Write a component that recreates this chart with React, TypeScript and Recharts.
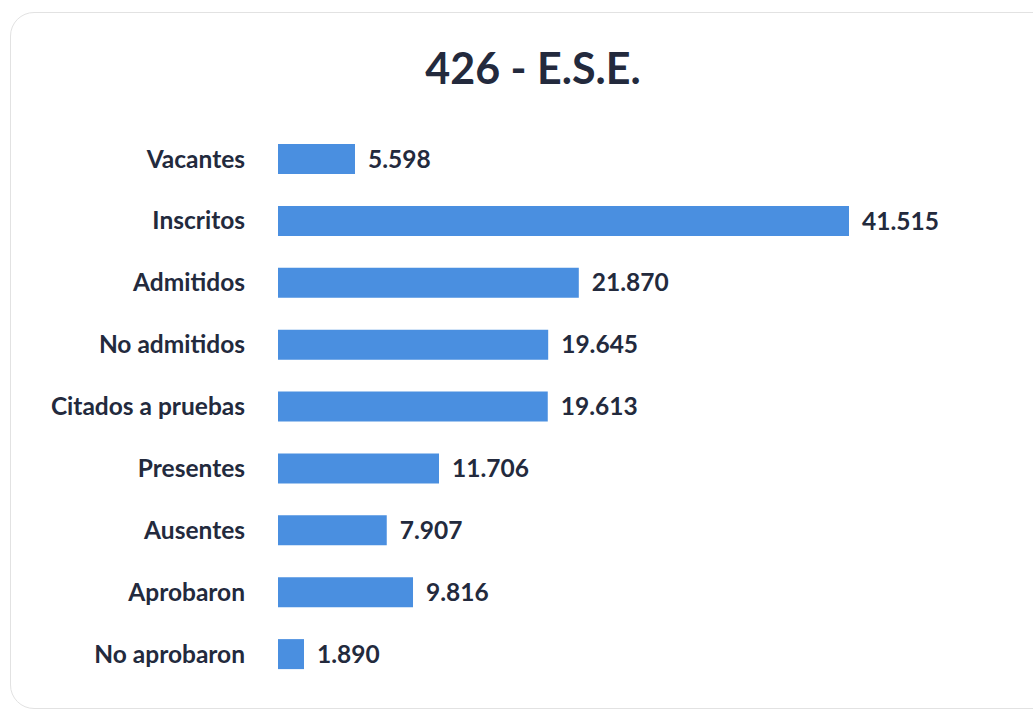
import { Bar, BarChart, LabelList, XAxis, YAxis } from "recharts";

const categories = [
  "Vacantes",
  "Inscritos",
  "Admitidos",
  "No admitidos",
  "Citados a pruebas",
  "Presentes",
  "Ausentes",
  "Aprobaron",
  "No aprobaron",
];

const totals = [5598, 41515, 21870, 19645, 19613, 11706, 7907, 9816, 1890];

const TEXT = "#232a3d";
const BAR = "#4a8fe0";
const FONT = "Lato, 'Open Sans', sans-serif";

const data = categories.map((name, i) => ({ name, total: totals[i] }));

// 41515 -> "41.515"
const fmt = (v: number): string =>
  String(Math.round(v)).replace(/\B(?=(\d{3})+(?!\d))/g, ".");

const CategoryTick = (props: any) => {
  const { x, y, payload } = props;
  return (
    <text
      x={x}
      y={y}
      dy="0.35em"
      textAnchor="end"
      fill={TEXT}
      fontFamily={FONT}
      fontWeight={700}
      fontSize={24.5}
    >
      {payload.value}
    </text>
  );
};

export default function App() {
  return (
    <div
      style={{
        position: "absolute",
        left: 0,
        top: 0,
        width: 1033,
        height: 711,
        background: "#ffffff",
        overflow: "hidden",
      }}
    >
      <div
        style={{
          position: "absolute",
          left: 10,
          top: 12,
          width: 1060,
          height: 695,
          border: "1.5px solid #e2e2e2",
          borderRadius: 24,
        }}
      />
      <div
        style={{
          position: "absolute",
          left: 0,
          top: 46,
          width: 1066,
          textAlign: "center",
          fontFamily: FONT,
          fontWeight: 700,
          fontSize: 43,
          lineHeight: "43px",
          color: TEXT,
        }}
      >
        426 - E.S.E.
      </div>
      <div style={{ position: "absolute", left: 0, top: 0 }}>
        <BarChart
          width={1033}
          height={711}
          data={data}
          layout="vertical"
          margin={{ top: 128, right: 184, bottom: 26, left: 0 }}
        >
          <XAxis type="number" domain={[0, "dataMax"]} hide />
          <YAxis
            type="category"
            dataKey="name"
            width={278}
            axisLine={false}
            tickLine={false}
            tickSize={0}
            tickMargin={33}
            interval={0}
            tick={<CategoryTick />}
          />
          <Bar dataKey="total" fill={BAR} barSize={30} isAnimationActive={false}>
            <LabelList
              dataKey="total"
              position="right"
              offset={13}
              formatter={(v: any) => fmt(Number(v))}
              fill={TEXT}
              fontFamily={FONT}
              fontWeight={700}
              fontSize={24.5}
            />
          </Bar>
        </BarChart>
      </div>
    </div>
  );
}
